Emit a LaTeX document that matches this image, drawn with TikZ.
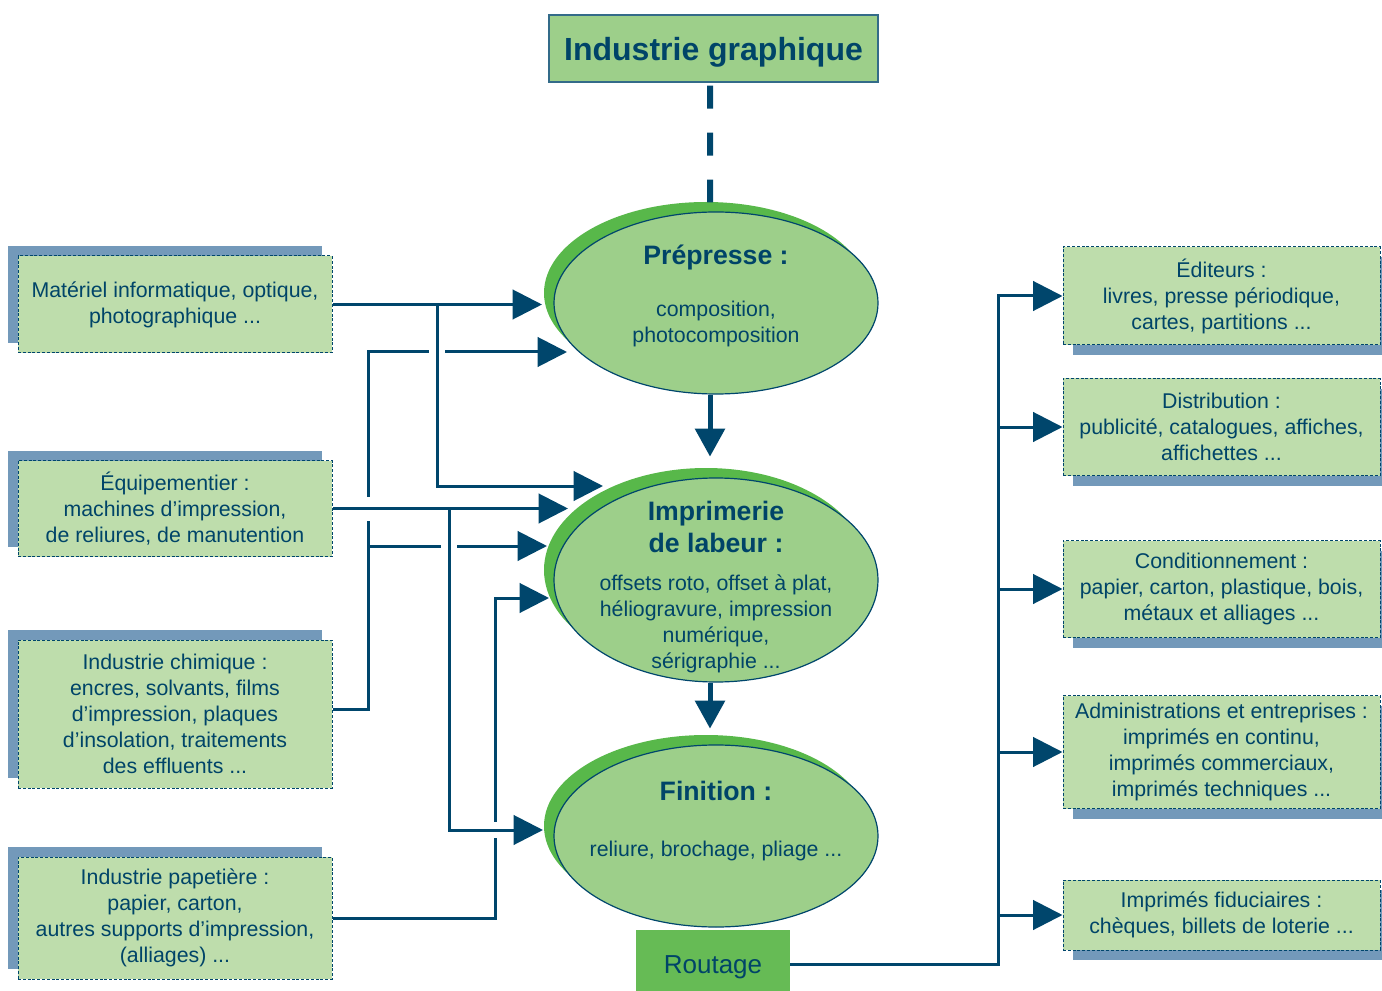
\documentclass[tikz,border=0pt]{standalone}
\usepackage{fontspec}
\setmainfont{Liberation Sans}
\usetikzlibrary{shapes.geometric,shadows,arrows.meta,calc}

\definecolor{textblue}{RGB}{0,68,104}
\definecolor{lineblue}{RGB}{0,70,108}
\definecolor{boxfill}{RGB}{190,221,172}
\definecolor{shadowblue}{RGB}{115,153,186}
\definecolor{ovalfill}{RGB}{157,207,138}
\definecolor{ovalshadow}{RGB}{88,184,74}
\definecolor{routfill}{RGB}{102,187,85}

\begin{document}
\begin{tikzpicture}[
            x=0.75pt, y=-0.75pt,
            every node/.style={text=textblue, align=center, font=\fontsize{16}{19.5}\selectfont},
            srcbox/.style={draw=lineblue, dash pattern=on 2.2pt off 1.4pt, line width=0.75pt,
                fill=boxfill, minimum width=235.5pt,
                drop shadow={shadow xshift=-7.5pt, shadow yshift=7.5pt, fill=shadowblue, opacity=1}},
            dstbox/.style={draw=lineblue, dash pattern=on 2.2pt off 1.4pt, line width=0.75pt,
                fill=boxfill, minimum width=237.75pt,
                drop shadow={shadow xshift=7.5pt, shadow yshift=-7.5pt, fill=shadowblue, opacity=1}},
            oval/.style={ellipse, draw=lineblue, line width=0.9pt, fill=ovalfill, inner sep=0pt,
                minimum width=243pt, minimum height=136.5pt,
                drop shadow={shadow xshift=-7.5pt, shadow yshift=7.5pt, fill=ovalshadow, opacity=1}},
            headtext/.style={font=\bfseries\fontsize{20}{24}\selectfont},
            titlebox/.style={draw=lineblue!80, line width=1pt, fill=ovalfill,
                minimum width=246.75pt, minimum height=50.25pt, text height=18.5pt, text depth=0pt,
                font=\bfseries\fontsize{24}{28}\selectfont},
            routbox/.style={fill=routfill, minimum width=115.5pt, minimum height=45.75pt,
                text height=19pt, text depth=0pt, font=\fontsize{19.5}{23}\selectfont},
            flow/.style={draw=lineblue, line width=2.25pt, -{Triangle[length=22pt,width=22pt]}},
            bigflow/.style={draw=lineblue, line width=3.75pt, -{Triangle[length=21pt,width=22pt]}},
            gap/.style={fill=white}]
            \useasboundingbox (0,0) rectangle (1382,991);

            % centre
            \node[titlebox] (title) at (713.5,48.5) {Industrie graphique};
            \node[oval] (prep) at (716,303) {};
            \node[oval, minimum height=153pt] (impr) at (716,580) {};
            \node[oval] (fini) at (716,836) {};
            \node[headtext] (prephead) at (716,257) {Prépresse :};
            \node (prepbody) at (716,323.5) {composition,\\photocomposition};
            \node[headtext] (imprhead) at (716,527) {Imprimerie\\de labeur :};
            \node (imprbody) at (716,624) {offsets roto, offset à plat,\\héliogravure, impression\\numérique,\\sérigraphie ...};
            \node[headtext] (finihead) at (716,791) {Finition :};
            \node (finibody) at (716,851) {reliure, brochage, pliage ...};
            \node[routbox] (rout) at (713,960.5) {Routage};

            % fournisseurs
            \node[srcbox, minimum height=72.75pt] (mat) at (175,304.5) {Matériel informatique, optique,\\photographique ...};
            \node[srcbox, minimum height=72pt] (equip) at (175,508.5) {Équipementier :\\machines d’impression,\\de reliures, de manutention};
            \node[srcbox, minimum height=111pt] (chim) at (175,714) {Industrie chimique :\\encres, solvants, films\\d’impression, plaques\\d’insolation, traitements\\des effluents ...};
            \node[srcbox, minimum height=91.5pt] (pap) at (175,918) {Industrie papetière :\\papier, carton,\\autres supports d’impression,\\(alliages) ...};

            % clients
            \node[dstbox, minimum height=73.5pt] (edit) at (1221.5,296) {Éditeurs :\\livres, presse périodique,\\cartes, partitions ...};
            \node[dstbox, minimum height=72.75pt] (distr) at (1221.5,427) {Distribution :\\publicité, catalogues, affiches,\\affichettes ...};
            \node[dstbox, minimum height=72.75pt] (cond) at (1221.5,589) {Conditionnement :\\papier, carton, plastique, bois,\\métaux et alliages ...};
            \node[dstbox, minimum height=84.75pt] (admin) at (1221.5,752) {Administrations et entreprises :\\imprimés en continu,\\imprimés commerciaux,\\imprimés techniques ...};
            \node[dstbox, minimum height=52.5pt] (fidu) at (1221.5,915) {Imprimés fiduciaires :\\chèques, billets de loterie ...};

            \coordinate (colA) at (368,0);
            \coordinate (colB) at (437,0);
            \coordinate (colC) at (449,0);
            \coordinate (colD) at (495,0);
            \coordinate (bus) at (998,0);
            \coordinate (inP1) at (542,304);
            \coordinate (inP2) at (567,352);
            \coordinate (inI1) at (603,486);
            \coordinate (inI2) at (568,510);
            \coordinate (inI3) at (547,546);
            \coordinate (inI4) at (549,598);
            \coordinate (inF1) at (543,830);

            \draw[lineblue, line width=4.5pt, dash pattern=on 17.25pt off 18pt]
                ([xshift=-2.6pt, yshift=-2.25pt]title.south) -- ([xshift=-4.5pt, yshift=6.75pt]prep.north);
            \draw[bigflow] ([xshift=-4.5pt]prep.south) -- ++(0,62);
            \draw[bigflow] ([xshift=-4.5pt]impr.south) -- ++(0,46);

            % lines that get cut
            \draw[flow] ([yshift=3.75pt]chim.east) -| (colA |- inP2) -- (inP2);
            \draw[flow] (colA |- inI3) -- (inI3);
            \draw[flow] (pap.east) -| (colD |- inI4) -- (inI4);
            \fill[gap] ($(colB |- inP2)+(-8,-5)$) rectangle ++(16,10);
            \fill[gap] ($(colA |- equip.east)+(-5,-12)$) rectangle ++(10,24);
            \fill[gap] ($(colC |- inI3)+(-8,-5)$) rectangle ++(16,10);
            \fill[gap] ($(colD |- inF1)+(-5,-8)$) rectangle ++(10,16);

            % lines on top
            \draw[flow] (mat.east) -- (mat.east -| inP1);
            \draw[flow] (mat.east -| colB) |- (inI1);
            \draw[flow] (equip.east) -- (equip.east -| inI2);
            \draw[flow] (equip.east -| colC) |- (inF1);

            % routage
            \draw[flow] ([yshift=-3pt]rout.east) -| (bus |- edit.west) -- (edit.west);
            \foreach \n in {distr,cond,admin,fidu}
                \draw[flow] (bus |- \n.west) -- (\n.west);
        \end{tikzpicture}
\end{document}
